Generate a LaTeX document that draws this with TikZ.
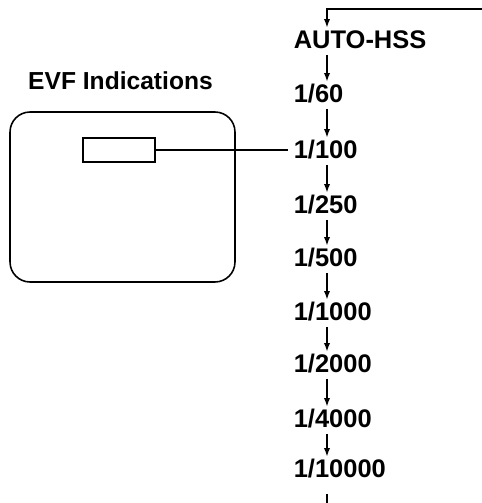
\documentclass[tikz,border=0pt]{standalone}
\usepackage{fontspec}
\setmainfont{Liberation Sans}
\usetikzlibrary{arrows.meta}
\tikzset{
	speed/.style={anchor=west, inner sep=0pt, text height=10pt, text depth=0pt, font=\fontsize{14.5}{16}\selectfont\bfseries},
	flow/.style={line width=0.9pt, -{Latex[length=5pt, width=3.6pt]}, shorten <=3pt, shorten >=1.5pt},
}
\begin{document}
\begin{tikzpicture}[x=0.02cm, y=-0.02cm, line width=0.9pt]
	\useasboundingbox (0, 0) rectangle (482, 503);
	% Screen and tag:
	\node[anchor=center, inner sep=0pt, font=\fontsize{14}{16}\selectfont\bfseries] (title) at (120.5, 81){EVF Indications};
	\node[shape=rectangle, draw, rounded corners=0.4cm, minimum width=4.5cm, minimum height=3.4cm] (screen) at (122.5, 197){};
	\node[shape=rectangle, draw, minimum width=1.44cm, minimum height=0.48cm] (tag) at (119, 150){};
	% Speeds:
	\coordinate (col) at (327, 0);
	\node[speed] (auto) at (293, 40){AUTO-HSS};
	\node[speed] (s60) at (293, 94){1/60};
	\node[speed] (s100) at (293, 150){1/100};
	\node[speed] (s250) at (293, 205){1/250};
	\node[speed] (s500) at (293, 258){1/500};
	\node[speed] (s1000) at (293, 312){1/1000};
	\node[speed] (s2000) at (293, 364){1/2000};
	\node[speed] (s4000) at (293, 419){1/4000};
	\node[speed] (s10000) at (293, 469){1/10000};
	% Arrows and wires:
	\coordinate (loopin) at (482, 9);
	\coordinate (loopout) at (327, 503);
	\draw[flow, shorten <=0pt] (loopin) -| (auto.north -| col);
	\draw[flow] (auto.south -| col) -- (s60.north -| col);
	\draw[flow] (s60.south -| col) -- (s100.north -| col);
	\draw[flow] (s100.south -| col) -- (s250.north -| col);
	\draw[flow] (s250.south -| col) -- (s500.north -| col);
	\draw[flow] (s500.south -| col) -- (s1000.north -| col);
	\draw[flow] (s1000.south -| col) -- (s2000.north -| col);
	\draw[flow] (s2000.south -| col) -- (s4000.north -| col);
	\draw[flow] (s4000.south -| col) -- (s10000.north -| col);
	\draw[shorten <=9pt] (s10000.south -| col) -- (loopout);
	\draw[shorten >=3pt] (tag.east) -- (s100.west);
\end{tikzpicture}
\end{document}
